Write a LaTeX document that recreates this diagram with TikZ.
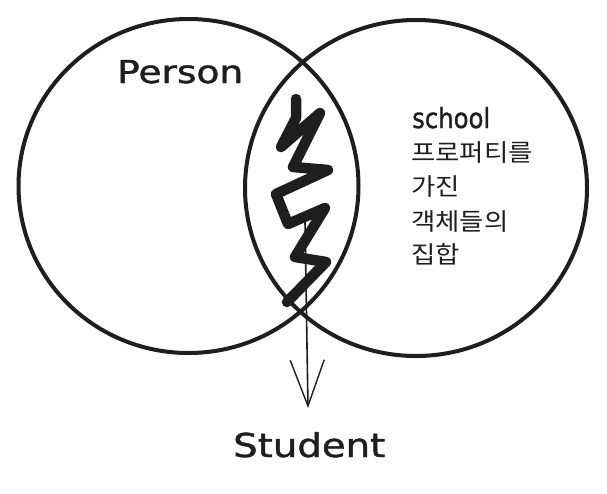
\documentclass[tikz,border=0pt]{standalone}
\usepackage{fontspec}
\setmainfont{DejaVu Sans}
\newfontfamily\handfont[FakeBold=1.2]{DejaVu Sans}
\newfontfamily\krfont[FakeStretch=1.1]{Noto Sans CJK KR}
\usetikzlibrary{arrows.meta,shapes.geometric}
\definecolor{ink}{HTML}{1E1E1E}
\tikzset{
  setring/.style={ellipse, draw=ink, line width=4pt, inner sep=0pt},
  scribble/.style={draw=ink, line width=10.5pt, line cap=round, line join=round},
  arr/.style={draw=ink, line width=1.6pt, -{Straight Barb[length=46pt,width=34pt,line width=1.4pt]}},
  lbl/.style={inner sep=0pt, text=ink, anchor=base west, font=\handfont},
  krl/.style={inner sep=0pt, text=ink, anchor=base west, font=\krfont\fontsize{24pt}{28pt}\selectfont}
}
\begin{document}
\begin{tikzpicture}[x=1pt,y=-1pt]
\useasboundingbox[fill=white] (0,0) rectangle (607,493);
\node[setring, minimum width=340pt, minimum height=334pt] (leftset) at (188.5,186) {};
\node[setring, minimum width=342pt, minimum height=336pt] (rightset) at (416,188) {};
% scribble in the intersection
\draw[scribble] (296,99) -- (296,118) -- (281,147) -- (320,113) -- (293,167) -- (328,170)
  -- (276,194) -- (288,224) -- (325,208) -- (295,257) -- (326,262) -- (287,302);
% labels
\node[lbl] (person) at (117,83) {\resizebox{126pt}{23pt}{Person}};
\node[lbl] (school) at (412,128) {\resizebox{78pt}{21pt}{school}};
\node[krl] (k1) at (411,161.5) {프로퍼티를};
\node[krl] (k2) at (411,195.5) {가진};
\node[krl] (k3) at (411,230) {객체들의};
\node[krl] (k4) at (411,263.5) {집합};
\node[lbl] (student) at (233,457) {\resizebox{152pt}{25pt}{Student}};
% arrow
\coordinate (astart) at (305,222);
\coordinate (atip) at (308,408);
\draw[arr] (astart) -- (atip);
\end{tikzpicture}
\end{document}
